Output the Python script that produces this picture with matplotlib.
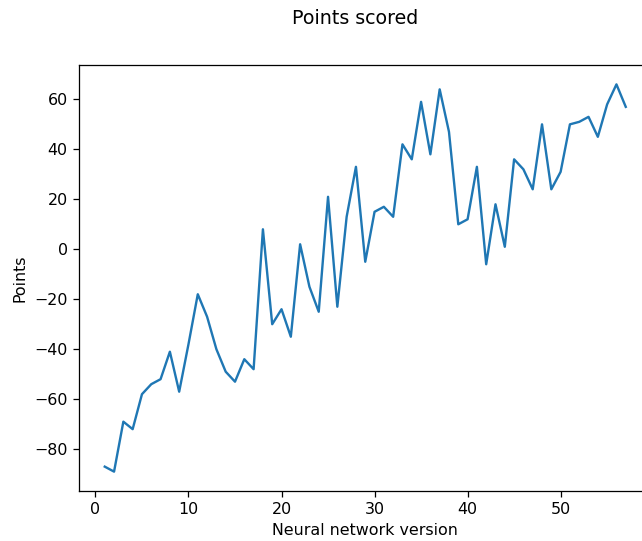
import matplotlib
matplotlib.use("Agg")
import matplotlib.pyplot as plt

versions = list(range(1, 58))
points = [-87, -89, -69, -72, -58, -54, -52, -41, -57, -38,
          -18, -27, -40, -49, -53, -44, -48, 8, -30, -24,
          -35, 2, -15, -25, 21, -23, 13, 33, -5, 15,
          17, 13, 42, 36, 59, 38, 64, 47, 10, 12,
          33, -6, 18, 1, 36, 32, 24, 50, 24, 31,
          50, 51, 53, 45, 58, 66, 57]

W, H = 642, 541
DPI = 114
fig = plt.figure(figsize=(W / DPI, H / DPI), dpi=DPI)
left, right, top, bottom = 78.7, 651.8, 65.0, 491.0
ax = fig.add_axes([left / W, 1 - bottom / H, (right - left) / W, (bottom - top) / H])
ax.plot(versions, points, color="#1f77b4", linewidth=1.5)
ax.set_xlabel("Neural network version")
ax.set_ylabel("Points")
fig.suptitle("Points scored", x=355.5 / W, y=0.984, fontsize=12)
fig.savefig("out.png", dpi=DPI)
